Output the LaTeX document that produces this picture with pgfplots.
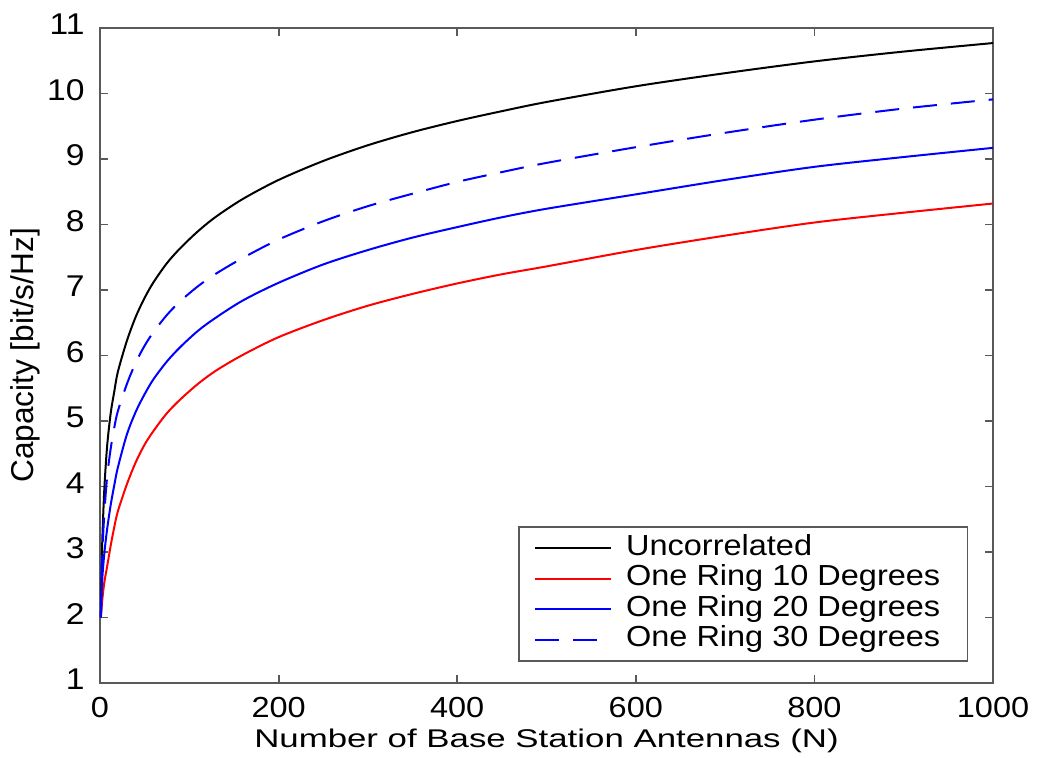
\documentclass[border=0pt]{standalone}
\usepackage{fontspec}
\setmainfont{Liberation Sans}[FakeStretch=1.12]
\newfontfamily\ylabfont{Liberation Sans}
\newfontfamily\xlabfont{Liberation Sans}[FakeStretch=1.36]
\usepackage{pgfplots}
\usepackage{pgfplotstable}
\pgfplotsset{compat=1.18}

% Capacity [bit/s/Hz] versus number of base station antennas N
\pgfplotstableread{
N     unc    r10   r20   r30
1     2.00   2.00  2.00  2.00
2     2.85   2.18  2.42  2.72
3     3.35   2.33  2.68  3.12
5     4.00   2.55  3.00  3.62
8     4.62   2.78  3.35  4.15
12    5.12   3.10  3.72  4.58
16    5.45   3.38  4.02  4.90
20    5.75   3.62  4.29  5.15
30    6.22   4.03  4.79  5.56
40    6.59   4.37  5.14  5.89
50    6.88   4.64  5.41  6.15
60    7.12   4.85  5.64  6.36
75    7.41   5.12  5.91  6.62
90    7.64   5.33  6.13  6.83
110   7.90   5.57  6.38  7.06
130   8.12   5.77  6.58  7.25
160   8.39   6.01  6.84  7.49
200   8.68   6.28  7.11  7.77
250   8.97   6.54  7.39  8.05
300   9.21   6.76  7.61  8.28
350   9.41   6.94  7.80  8.47
400   9.58   7.10  7.96  8.65
450   9.73   7.24  8.11  8.80
500   9.87   7.36  8.24  8.94
600   10.11  7.61  8.46  9.18
700   10.31  7.83  8.68  9.40
800   10.49  8.03  8.88  9.60
900   10.64  8.18  9.03  9.77
1000  10.77  8.32  9.17  9.91
}\captable

\begin{document}
\begin{tikzpicture}
\path[use as bounding box] (-50pt,-37.5pt) rectangle (469pt,341.5pt);
\begin{axis}[
  width=446.5pt, height=327.5pt, scale only axis,
  xmin=0, xmax=1000, ymin=1, ymax=11,
  xtick={0,200,...,1000}, ytick={1,2,...,11},
  tick align=inside,
  major tick length=4pt,
  axis line style={black!65, line width=0.9pt},
  every tick/.style={black!65, line width=0.9pt},
  /pgf/number format/assume math mode=true,
  /pgf/number format/set thousands separator={},
  xticklabel style={font=\fontsize{14.5}{17}\selectfont, inner sep=0pt, anchor=base, yshift=-17.4pt},
  yticklabel style={font=\fontsize{15}{18}\selectfont, inner sep=0pt, anchor=base east, xshift=-7.5pt, yshift=-3.4pt},
  xlabel={Number of Base Station Antennas (N)},
  ylabel={Capacity [bit/s/Hz]},
  xlabel style={font=\xlabfont\fontsize{12.8}{15}\selectfont, at={(axis description cs:0.5,0)}, anchor=base, inner sep=0pt, yshift=-32.5pt},
  ylabel style={font=\ylabfont\fontsize{15.8}{18}\selectfont, at={(axis description cs:-0.075,0.5)}, anchor=base, inner sep=0pt},
  legend cell align=left,
  legend image code/.code={\draw[#1] (0pt,0pt) -- (38pt,0pt);},
  legend style={
    at={(rel axis cs:1,0)}, anchor=south east, xshift=-12.3pt, yshift=10.5pt,
    draw=black!65, line width=0.9pt,
    font=\fontsize{14.5}{15}\selectfont,
    inner xsep=7.6pt, inner ysep=3pt,
    nodes={inner sep=0pt, text height=11pt, text depth=4.25pt},
    /tikz/every odd column/.append style={column sep=7pt},
  },
]
\addplot[black, line width=1pt, smooth] table[x=N, y=unc] {\captable};
\addlegendentry{Uncorrelated}
\addplot[red, line width=1pt, smooth] table[x=N, y=r10] {\captable};
\addlegendentry{One Ring 10 Degrees\hspace*{6pt}}
\addplot[blue, line width=1pt, smooth] table[x=N, y=r20] {\captable};
\addlegendentry{One Ring 20 Degrees\hspace*{6pt}}
\addplot[blue, line width=1pt, smooth, dash pattern=on 12pt off 7pt] table[x=N, y=r30] {\captable};
\addlegendentry{One Ring 30 Degrees\hspace*{6pt}}
\end{axis}
\end{tikzpicture}
\end{document}
